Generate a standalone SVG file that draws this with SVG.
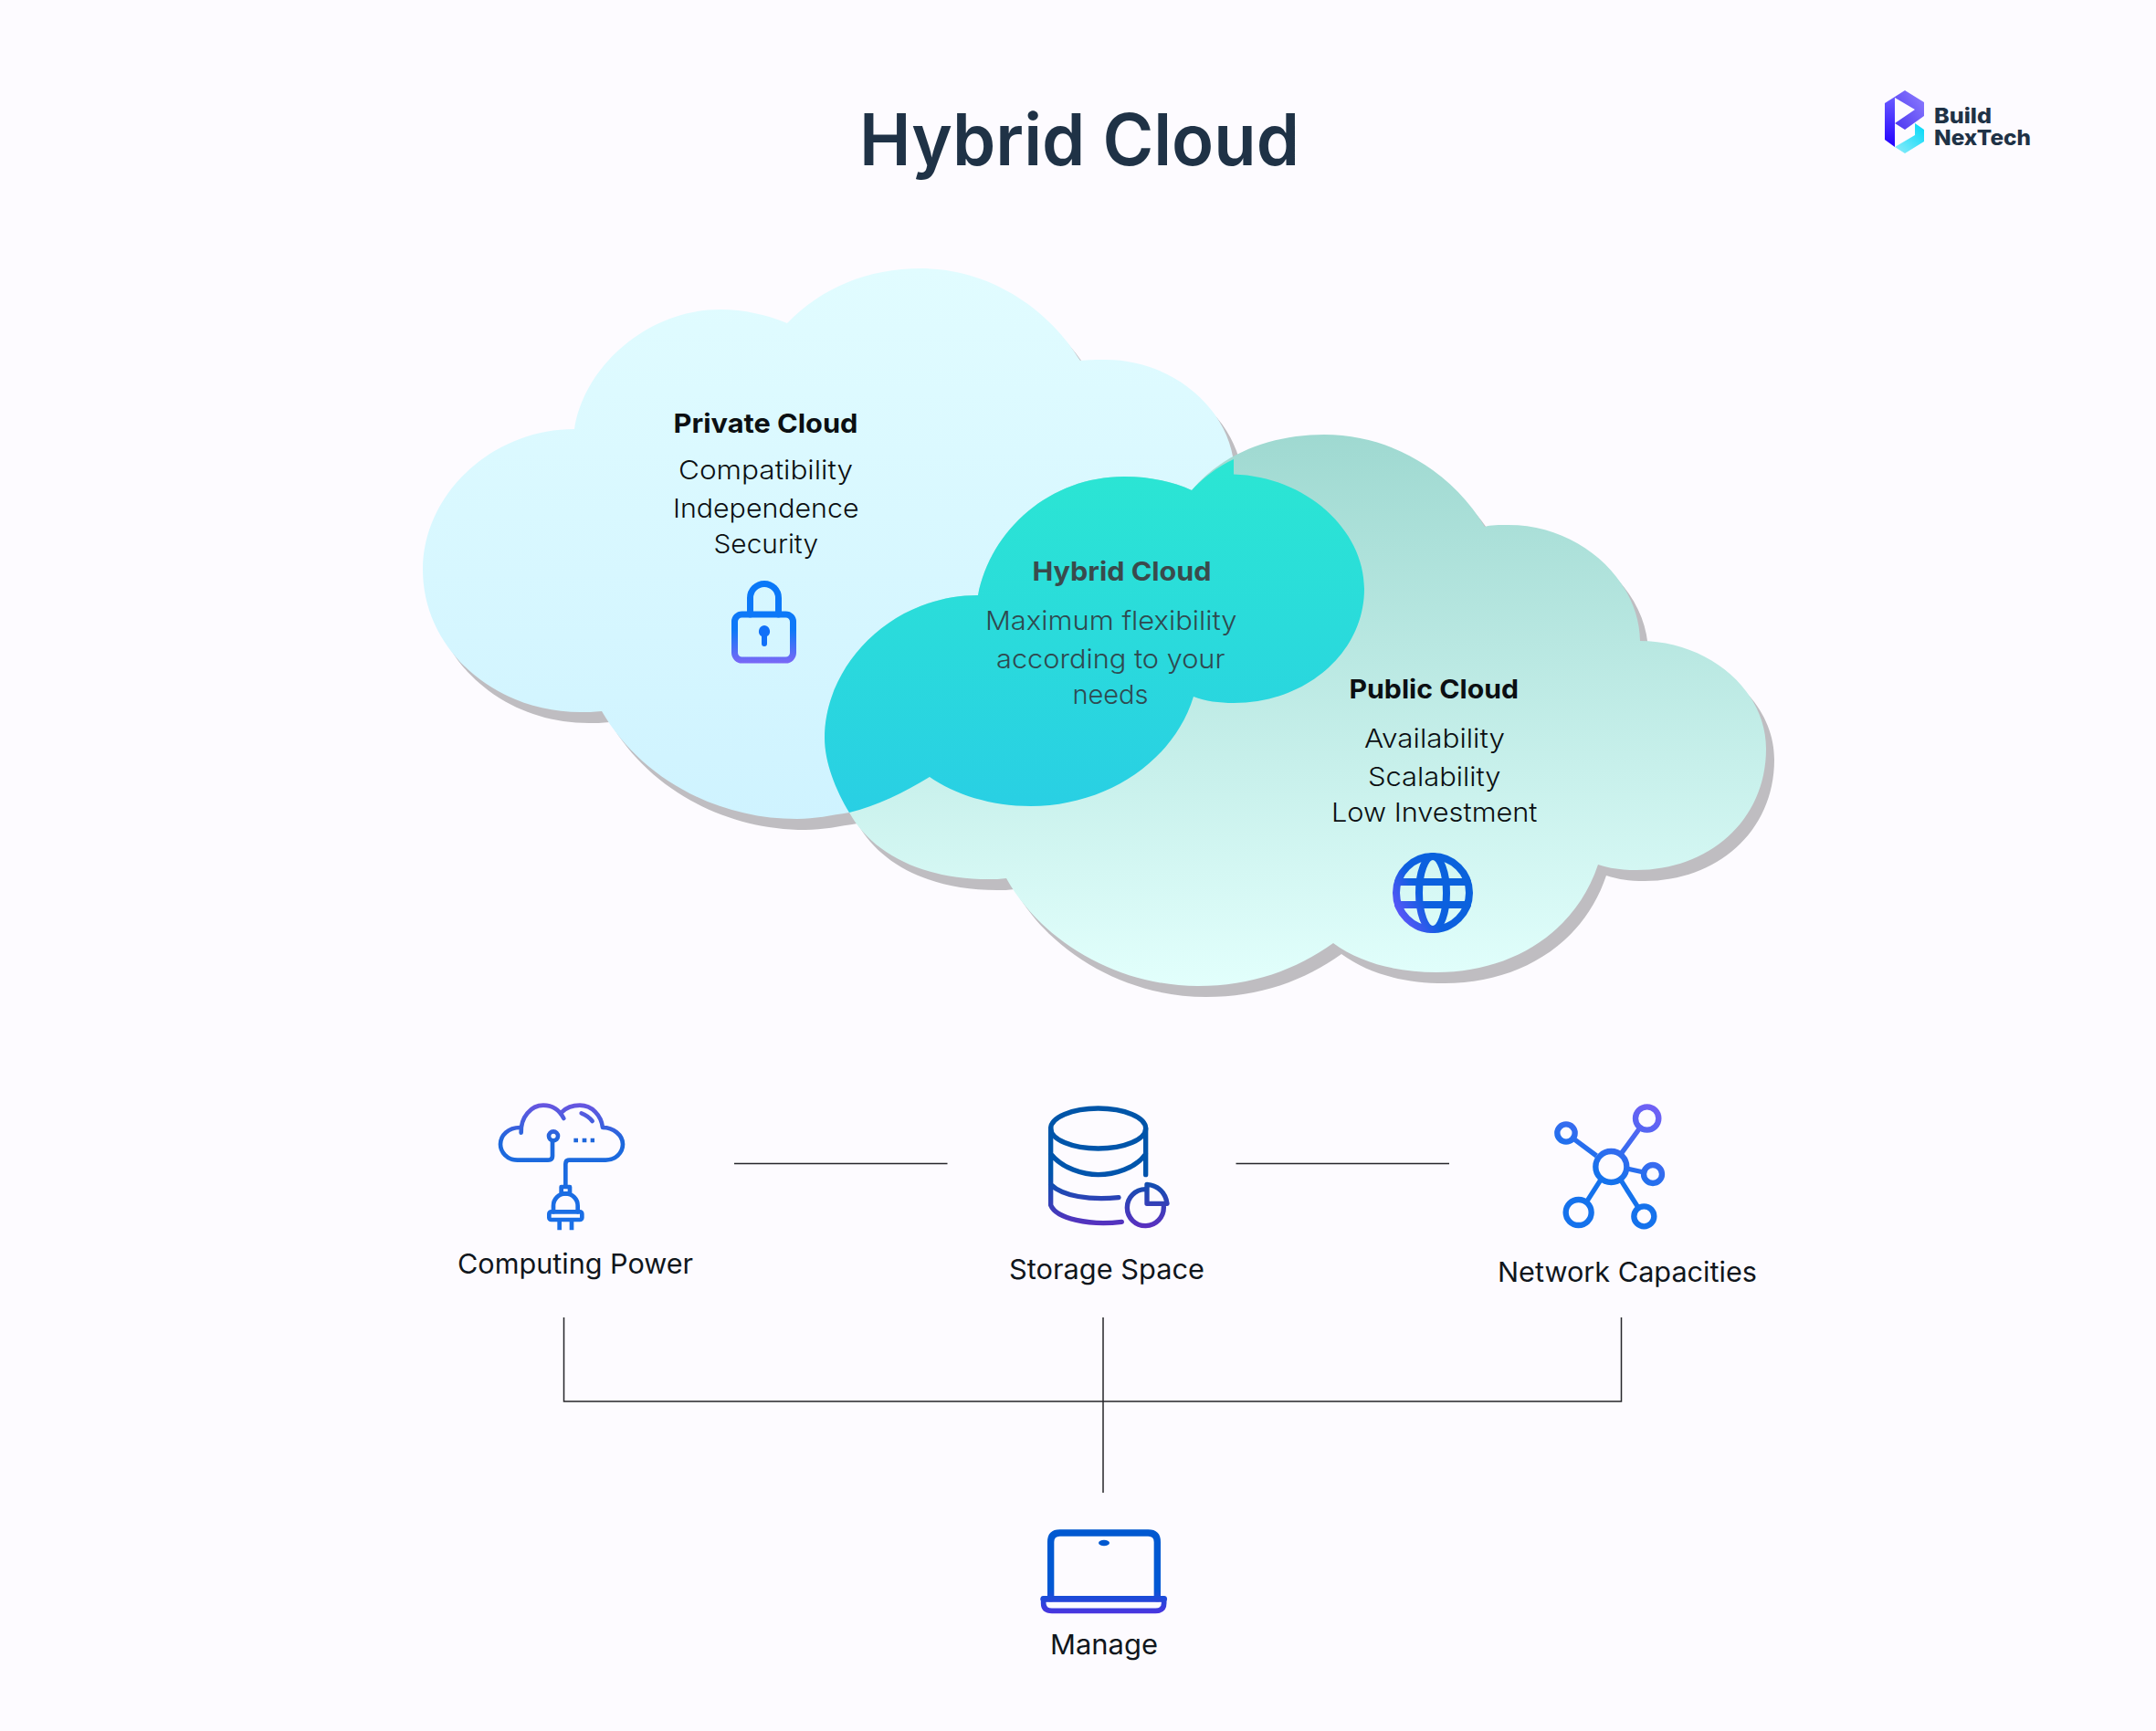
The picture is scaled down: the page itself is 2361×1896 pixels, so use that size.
<svg xmlns="http://www.w3.org/2000/svg" width="2361" height="1896" viewBox="0 0 2361 1896">
<defs>
<linearGradient id="gPriv" x1="0" y1="0" x2="0" y2="1"><stop offset="0" stop-color="#e1fcff"/><stop offset="1" stop-color="#cff3ff"/></linearGradient>
<linearGradient id="gPub" x1="0" y1="0" x2="0" y2="1"><stop offset="0" stop-color="#9fd9d1"/><stop offset="1" stop-color="#e2fffc"/></linearGradient>
<linearGradient id="gHyb" x1="0" y1="0" x2="0" y2="1"><stop offset="0" stop-color="#2be6d3"/><stop offset="1" stop-color="#29cfe4"/></linearGradient>
<linearGradient id="gLock" gradientUnits="userSpaceOnUse" x1="0" y1="638" x2="0" y2="726"><stop offset="0" stop-color="#0a78f8"/><stop offset=".6" stop-color="#0e78f8"/><stop offset="1" stop-color="#7a68f6"/></linearGradient>
<linearGradient id="gGlobe" gradientUnits="userSpaceOnUse" x1="1530" y1="1000" x2="1600" y2="960"><stop offset="0" stop-color="#5a55f8"/><stop offset=".4" stop-color="#0d5fe0"/><stop offset="1" stop-color="#0a62dc"/></linearGradient>
<linearGradient id="gComp" gradientUnits="userSpaceOnUse" x1="0" y1="55" x2="0" y2="480"><stop offset="0" stop-color="#6a55e0"/><stop offset=".3" stop-color="#1c68dc"/><stop offset="1" stop-color="#1a70e8"/></linearGradient>
<linearGradient id="gStore" gradientUnits="userSpaceOnUse" x1="0" y1="70" x2="0" y2="460"><stop offset="0" stop-color="#0055a8"/><stop offset=".55" stop-color="#0055ac"/><stop offset="1" stop-color="#5a30c0"/></linearGradient>
<linearGradient id="gNet" gradientUnits="userSpaceOnUse" x1="370" y1="60" x2="250" y2="300"><stop offset="0" stop-color="#7060f5"/><stop offset="1" stop-color="#1572ec"/></linearGradient>
<linearGradient id="gLap" gradientUnits="userSpaceOnUse" x1="0" y1="47" x2="0" y2="320"><stop offset="0" stop-color="#0058d0"/><stop offset=".7" stop-color="#0058d4"/><stop offset="1" stop-color="#4a35e0"/></linearGradient>
<linearGradient id="gL1" x1="0" y1="0" x2="0" y2="1"><stop offset="0" stop-color="#6a5cff"/><stop offset="1" stop-color="#2200ff"/></linearGradient>
<linearGradient id="gL2" x1="1" y1="0" x2="0" y2="1"><stop offset="0" stop-color="#9080ff"/><stop offset="1" stop-color="#4a35f0"/></linearGradient>
<linearGradient id="gL3" x1="1" y1="0" x2="0" y2="1"><stop offset="0" stop-color="#00d8f8"/><stop offset="1" stop-color="#90ecfa"/></linearGradient>
<path id="cPriv" d="M629 470C640 400 710 339 789 339C815 339 840 345 862 354C900 315 950 294 1009 294C1085 294 1150 340 1183 395C1192 394 1200 394 1211 394C1285 394 1352 450 1352 520L1300 600L1000 850L930 890C910 893 892 897 873 897C782 897 700 850 659 779C650 780 642 780 636 780C540 780 463 710 463 624C463 540 540 470 629 470Z"/>
<path id="cPub" d="M1071 652C1085 580 1150 522 1231 522C1260 522 1285 528 1305 537C1340 495 1395 476 1450 476C1527 476 1592 520 1626 577C1632 575 1642 575 1652 575C1730 575 1795 635 1796 702C1870 702 1934 755 1934 820C1934 900 1870 953 1792 953C1775 953 1762 951 1750 947C1725 1022 1655 1065 1573 1065C1530 1065 1490 1055 1460 1033C1420 1062 1370 1080 1312 1080C1222 1080 1140 1030 1102 962C1095 963 1090 963 1083 963C1010 963 955 935 930 890C915 865 903 835 903 808C903 730 975 652 1071 652Z"/>
</defs>
<style>
text{font-family:"Inter","Liberation Sans",sans-serif}
.h{font-size:29px;font-weight:700;fill:#0b0f12}
.b{font-size:29px;font-weight:300;fill:#0b0f12}
.l{font-size:30px;font-weight:400;fill:#10161c}
.i{fill:none;stroke-linecap:round;stroke-linejoin:round}
.c{fill:none;stroke:#26262a;stroke-width:1.500}
</style>
<rect width="2361" height="1896" fill="#fdfbff"/>
<text id="title" x="941" y="181" textLength="482" lengthAdjust="spacingAndGlyphs" font-size="78" font-weight="600" fill="#1f3246">Hybrid Cloud</text>
<g id="logo">
<polygon points="2064,113 2075,106 2075,161 2064,153" fill="url(#gL1)"/>
<polygon points="2075,106 2086,99 2107,112 2107,127 2086,142 2075,135 2097,120 2075,107" fill="url(#gL2)"/>
<polygon points="2097,135 2107,142 2107,155 2086,168 2075,161 2097,148" fill="url(#gL3)"/>
<text x="2118" y="134.500" textLength="63" lengthAdjust="spacingAndGlyphs" font-size="23" font-weight="800" fill="#1f3246">Build</text>
<text x="2118" y="158.500" textLength="106" lengthAdjust="spacingAndGlyphs" font-size="23" font-weight="800" fill="#1f3246">NexTech</text>
</g>
<g id="private-cloud">
<use href="#cPriv" x="9" y="12" fill="#bfbdc1"/>
<use href="#cPriv" fill="url(#gPriv)"/>
<text class="h" x="737.500" y="474" textLength="202" lengthAdjust="spacingAndGlyphs">Private Cloud</text>
<text class="b" x="743" y="524.500" textLength="191" lengthAdjust="spacingAndGlyphs">Compatibility</text>
<text class="b" x="737" y="567" textLength="203.500" lengthAdjust="spacingAndGlyphs">Independence</text>
<text class="b" x="781.500" y="605.500" textLength="114.500" lengthAdjust="spacingAndGlyphs">Security</text>
<g class="i" stroke="url(#gLock)" stroke-width="7">
<path d="M821.500 673V655a15.500 15.500 0 0 1 31 0V673"/>
<rect x="804.500" y="673" width="64" height="50" rx="8"/>
</g>
<path d="M837 685a6.500 6.500 0 0 1 3 12V705a3 3 0 0 1-6 0V697a6.500 6.500 0 0 1 3-12Z" fill="#1170f8"/>
</g>
<g id="public-cloud">
<use href="#cPub" x="9" y="12" fill="#bfbdc1"/>
<use href="#cPub" fill="url(#gPub)"/>
<text class="h" x="1477.500" y="764.500" textLength="185.500" lengthAdjust="spacingAndGlyphs">Public Cloud</text>
<text class="b" x="1494" y="819" textLength="154" lengthAdjust="spacingAndGlyphs">Availability</text>
<text class="b" x="1498" y="861" textLength="145.500" lengthAdjust="spacingAndGlyphs">Scalability</text>
<text class="b" x="1458" y="900" textLength="225.500" lengthAdjust="spacingAndGlyphs">Low Investment</text>
<g class="i" stroke="url(#gGlobe)" stroke-width="8">
<circle cx="1569" cy="978" r="40"/>
<ellipse cx="1569" cy="978" rx="15" ry="40"/>
<path d="M1531 966H1607M1531 991H1607"/>
</g>
</g>
<g id="hybrid-cloud">
<path fill="url(#gHyb)" d="M1071 652C1085 580 1150 522 1231 522C1260 522 1285 528 1305 537C1318 523 1335 510 1351 503L1351 519.500C1430 522 1494 580 1494 645C1494 715 1430 770 1351 770C1335 770 1320 768 1307 763C1285 835 1210 883 1129 883C1085 883 1045 870 1018 851C990 868 960 883 930 890C915 865 903 835 903 808C903 730 975 652 1071 652Z"/>
<text class="h" x="1130.500" y="636" textLength="196" lengthAdjust="spacingAndGlyphs" style="fill:#3a4a4c">Hybrid Cloud</text>
<text class="b" x="1079" y="689.500" textLength="275.500" lengthAdjust="spacingAndGlyphs" style="fill:#2f4a50">Maximum flexibility</text>
<text class="b" x="1091" y="731.500" textLength="250.500" lengthAdjust="spacingAndGlyphs" style="fill:#2f4a50">according to your</text>
<text class="b" x="1174.500" y="770.500" textLength="83" lengthAdjust="spacingAndGlyphs" style="fill:#2f4a50">needs</text>
</g>
<g id="connectors">
<path class="c" d="M804 1274.500H1037.500M1353.500 1274.500H1587M617.500 1443V1535H1775.500V1443M1208 1443V1635"/>
</g>
<g id="computing-power">
<g transform="translate(520 1190) scale(.33333)" class="i" stroke="url(#gComp)" stroke-width="14">
<path d="M255 178V228Q255 242 240 242H140C105 242 84 215 84 190C84 160 110 135 148 135"/>
<path d="M152 152C150 100 185 62 225 62C255 62 278 78 292 105"/>
<path d="M285 85C300 70 320 62 345 62C385 62 415 95 420 135C455 135 486 160 486 190C486 220 460 242 430 242H310Q298 242 298 255V328"/>
<circle cx="258" cy="163" r="15"/>
<path d="M350 88Q372 96 386 114"/>
<path d="M325 177h14M353 177h14M380 177h13" stroke-linecap="butt" stroke-width="13"/>
<rect x="284" y="330" width="28" height="22"/>
<path d="M258 412V392A40 40 0 0 1 338 392V412"/>
<rect x="244" y="412" width="108" height="26" rx="7"/>
<path d="M278 438V472M318 438V472" stroke-linecap="butt"/>
</g>
<text class="l" x="501" y="1395" textLength="258" lengthAdjust="spacingAndGlyphs">Computing Power</text>
</g>
<g id="storage-space">
<g transform="translate(1120 1190) scale(.33333)" class="i" stroke="url(#gStore)" stroke-width="16">
<ellipse cx="248" cy="138" rx="156" ry="66"/>
<path d="M92 138V390C110 435 220 458 325 445M404 138V290M92 222C130 270 200 290 248 290C300 290 370 270 404 222M92 322C130 360 220 375 315 365"/>
<path d="M403 338A60 60 0 1 0 463 396"/>
<path d="M408 322C445 325 470 350 474 385H408Z"/>
</g>
<text class="l" x="1105" y="1401" textLength="214" lengthAdjust="spacingAndGlyphs">Storage Space</text>
</g>
<g id="network-capacities">
<g transform="translate(1680 1190) scale(.33333)" class="i" stroke="url(#gNet)" stroke-width="19">
<circle cx="253" cy="264" r="51"/><circle cx="371" cy="105" r="38"/><circle cx="105" cy="153" r="29"/><circle cx="390" cy="288" r="30"/><circle cx="146" cy="414" r="42"/><circle cx="361" cy="427" r="33"/>
<path d="M288 218L345 140M205 228L130 172M305 270L360 282M218 308L172 380M285 308L340 395" stroke-linecap="butt" stroke-width="16"/>
</g>
<text class="l" x="1640" y="1404" textLength="284" lengthAdjust="spacingAndGlyphs">Network Capacities</text>
</g>
<g id="manage">
<g transform="translate(1120 1660) scale(.33333)" class="i" stroke="url(#gLap)">
<path d="M92 272V87Q92 57 122 57H412Q442 57 442 87V272" stroke-width="22"/>
<path d="M68 274H464V288Q464 313 436 313H96Q68 313 68 288Z" stroke-width="17"/>
<path d="M68 274H464" stroke-width="20"/>
<ellipse cx="267" cy="90" rx="18" ry="10" fill="#0058d0" stroke="none"/>
</g>
<text class="l" x="1150" y="1812" textLength="118" lengthAdjust="spacingAndGlyphs">Manage</text>
</g>
</svg>
